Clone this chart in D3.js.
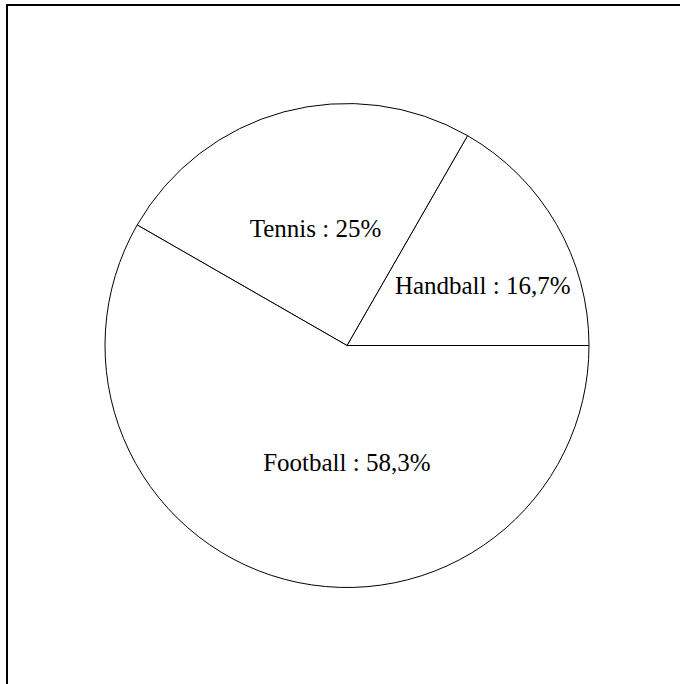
<!DOCTYPE html>
<html>
<head>
<meta charset="utf-8">
<script src="https://cdn.jsdelivr.net/npm/d3@7"></script>
<style>
  html, body { margin: 0; padding: 0; background: #fff; }
  svg { display: block; }
  text { font-family: "Liberation Serif", "DejaVu Serif", serif; }
</style>
</head>
<body>
<script>
// Sports shares, drawn counter-clockwise from the east axis
const categories = ["Handball", "Tennis", "Football"];
const values = [16.7, 25, 58.3];
const valueLabels = ["16,7%", "25%", "58,3%"];

const W = 680, H = 684;
const cx = 347, cy = 345.5, R = 242;

const svg = d3.select("body").append("svg")
  .attr("width", W).attr("height", H);

// frame (extends past the right and bottom edges)
svg.append("rect")
  .attr("x", 7).attr("y", 5)
  .attr("width", 720).attr("height", 720)
  .attr("fill", "none").attr("stroke", "#000").attr("stroke-width", 2);

const data = categories.map((c, i) => ({ name: c, value: values[i], label: valueLabels[i] }));

// d3 angles run clockwise from 12 o'clock; start at 3 o'clock going counter-clockwise
const pie = d3.pie().value(d => d.value).sort(null)
  .startAngle(Math.PI / 2).endAngle(Math.PI / 2 - 2 * Math.PI);

const arc = d3.arc().innerRadius(0).outerRadius(R);
const labelArc = d3.arc().innerRadius(R * 0.5).outerRadius(R * 0.5);

const g = svg.append("g").attr("transform", `translate(${cx},${cy})`);
const arcs = pie(data);

g.selectAll("path.slice").data(arcs).enter().append("path")
  .attr("class", "slice")
  .attr("d", arc)
  .attr("fill", "#fff")
  .attr("stroke", "#000")
  .attr("stroke-width", 1);

// label nudges along x for the wider slices
const labelShift = { Handball: 31, Tennis: 0, Football: 31 };

g.selectAll("text.lbl").data(arcs).enter().append("text")
  .attr("class", "lbl")
  .attr("x", d => labelArc.centroid(d)[0] + labelShift[d.data.name])
  .attr("y", d => labelArc.centroid(d)[1] + 3)
  .attr("text-anchor", "middle")
  .attr("dominant-baseline", "middle")
  .attr("font-size", 25)
  .attr("fill", "#000")
  .text(d => `${d.data.name} : ${d.data.label}`);
</script>
</body>
</html>
